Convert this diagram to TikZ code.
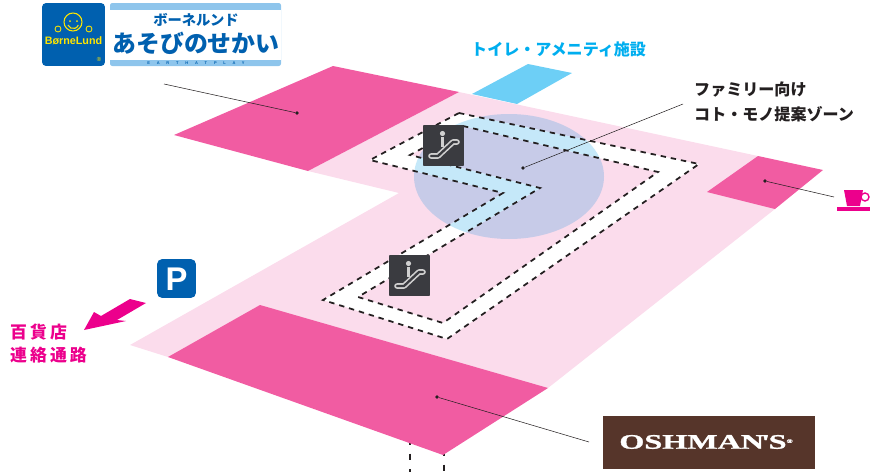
\documentclass[tikz,border=0pt]{standalone}
\usepackage{fontspec}
\setmainfont{Liberation Sans}
\newfontfamily\cjk{Noto Sans CJK JP}
\newfontfamily\cjkwide[LetterSpace=18]{Noto Sans CJK JP}
\newfontfamily\oshfont[FakeBold=1.2]{Liberation Serif}
\newfontfamily\earthfont[LetterSpace=170]{Liberation Sans}
\definecolor{floorpink}{HTML}{FBDCEC}
\definecolor{blockpink}{HTML}{F15CA2}
\definecolor{hotpink}{HTML}{EC008C}
\definecolor{toiletblue}{HTML}{6DCFF6}
\definecolor{labelblue}{HTML}{00AEEF}
\definecolor{zonelav}{HTML}{C7CBE8}
\definecolor{zoneblue}{HTML}{C5E8F9}
\definecolor{logoblue}{HTML}{0060AF}
\definecolor{logoband}{HTML}{8EC5EC}
\definecolor{logoyellow}{HTML}{FFE600}
\definecolor{iconbox}{HTML}{3A3B40}
\definecolor{iconline}{HTML}{D0D0D0}
\definecolor{oshbrown}{HTML}{56352A}
\definecolor{inkdark}{HTML}{231F20}
\tikzset{
	stripfill/.style={even odd rule, insert path={
		(459,-113) -- (699,-164) -- (447,-339) -- (323,-300) -- (503,-193) -- (370,-160) -- cycle
		(463,-126) -- (658,-172) -- (443,-323) -- (358,-297) -- (540,-188) -- (410,-155) -- cycle}},
	walkway/.style={inkdark, line width=1.5pt, dash pattern=on 4.6pt off 4.2pt},
	leader/.style={inkdark, line width=0.45pt},
	dotmark/.style={circle, fill=inkdark, minimum size=3.2pt},
	jplabel/.style={anchor=west, inkdark, font=\cjk\bfseries\fontsize{13.7}{13.7}\selectfont},
	pinklabel/.style={anchor=west, hotpink, font=\cjkwide\bfseries\fontsize{14.4}{14.4}\selectfont}
}
\begin{document}
\begin{tikzpicture}[x=0.03cm,y=0.03cm]
	\tikzstyle{every node}+=[inner sep=0pt]
	\useasboundingbox (0,0) rectangle (882,-472);
	% floor
	\fill [toiletblue] (528,-64) -- (572,-73) -- (517,-104) -- (472,-94) -- cycle;
	\fill [floorpink] (459,-92) -- (758,-156) -- (775,-209) -- (548,-388) -- (168,-357) -- (130,-345) -- (399,-193) -- (308,-171) -- cycle;
	\fill [blockpink] (333,-66) -- (459,-92) -- (308,-171) -- (174,-135) -- cycle;
	\fill [blockpink] (758,-156) -- (823,-170) -- (775,-209) -- (707,-192) -- cycle;
	\draw [walkway, dash pattern=on 5.8pt off 7.6pt] (410,-438) -- (410,-472);
	\draw [walkway, dash pattern=on 5.8pt off 7.6pt] (444,-449) -- (444,-472);
	\fill [blockpink] (260,-305) -- (548,-388) -- (443,-455) -- (168,-357) -- cycle;
	% zone and walkway
	\fill [zonelav] (509,-176.5) ellipse (95 and 62.5);
	\fill [white, stripfill];
	\begin{scope}
		\clip (509,-176.5) ellipse (95 and 62.5);
		\fill [zoneblue, stripfill];
	\end{scope}
	\draw [walkway] (459,-113) -- (699,-164) -- (447,-339) -- (323,-300) -- (503,-193) -- (370,-160) -- cycle;
	\draw [walkway] (463,-126) -- (658,-172) -- (443,-323) -- (358,-297) -- (540,-188) -- (410,-155) -- cycle;
	% escalators
	\foreach \x/\y [count=\i] in {423/125, 389/255} {
		\begin{scope}[shift={(\x,-\y)}]
			\node [fill=iconbox, minimum size=34.8pt, rounded corners=0.6pt] (esc\i) at (20.5,-20.5) {};
			\draw [iconline, line width=4.8pt, line cap=round, line join=round] (8,-31) -- (15,-31) -- (30,-17) -- (34,-17);
			\draw [iconbox, line width=2pt, line cap=round, line join=round] (8,-31) -- (15,-31) -- (30,-17) -- (34,-17);
			\draw [iconline, line width=3.2pt] (19.5,-12) -- (19.5,-22);
			\fill [iconline] (19.5,-8.5) circle (2.6);
		\end{scope}
	}
	% leaders
	\node [dotmark] (topdot) at (297,-113) {};
	\coordinate (topend) at (164,-84);
	\draw [leader] (topdot) -- (topend);
	\node [dotmark] (zonedot) at (523,-168) {};
	\coordinate (zoneend) at (683,-104);
	\draw [leader] (zonedot) -- (zoneend);
	\node [dotmark] (cafedot) at (765,-181) {};
	\coordinate (cafeend) at (834,-197);
	\draw [leader] (cafedot) -- (cafeend);
	\node [dotmark] (oshdot) at (437,-397) {};
	\coordinate (oshend) at (589,-442);
	\draw [leader] (oshdot) -- (oshend);
	% labels
	\node [jplabel, labelblue] (toilet) at (471,-49) {トイレ・アメニティ施設};
	\node [jplabel] (zonea) at (694,-90) {ファミリー向け};
	\node [jplabel] (zoneb) at (694,-114) {コト・モノ提案ゾーン};
	\node [pinklabel] (depta) at (10,-332) {百貨店};
	\node [pinklabel] (deptb) at (10,-355) {連絡通路};
	\fill [hotpink] (84,-330) -- (94,-312) -- (101,-316) -- (130,-299) -- (146,-303) -- (117,-320) -- (126,-321) -- cycle;
	% parking
	\node [fill=logoblue, rounded corners=4pt, minimum size=33pt] (parking) at (176.5,-278.5) {};
	\node [white, font=\bfseries\fontsize{28}{28}\selectfont] (parkingp) at (176.5,-279) {P};
	% cup
	\fill [hotpink] (844,-190) -- (863,-190) -- (860,-206) -- (847,-206) -- cycle;
	\draw [hotpink, line width=1.2pt] (865,-197) circle (4);
	\fill [hotpink] (837,-207) rectangle (870,-211);
	% logo
	\node [fill=logoblue, rounded corners=3pt, minimum size=53.5pt] (logobox) at (73.5,-34.5) {};
	\draw [logoyellow, line width=0.9pt] (73,-22) circle (9);
	\draw [logoyellow, line width=0.9pt] (68,-25) arc (200:340:5.5);
	\fill [logoyellow] (70,-21) circle (1) (77,-21) circle (1);
	\draw [logoyellow, line width=0.7pt] (58,-29) circle (3) (89,-29) circle (3);
	\node [logoyellow, font=\bfseries\fontsize{9.2}{9.2}\selectfont] (logoname) at (73.5,-41) {BørneLund};
	\node [logoyellow, font=\fontsize{5}{5}\selectfont] (logomark) at (99,-59) {®};
	\fill [logoband, rounded corners=2pt] (110,-3) rectangle (281,-66);
	\fill [white] (110,-10) rectangle (281,-60);
	\node [logoblue, font=\cjk\bfseries\fontsize{12.2}{12.2}\selectfont] (brandkana) at (196,-20) {ボーネルンド};
	\node [logoblue, font=\cjk\bfseries\fontsize{20.4}{20.4}\selectfont] (brandname) at (196,-43) {あそびのせかい};
	\node [logoblue, font=\earthfont\bfseries\fontsize{3.4}{3.4}\selectfont] (brandsub) at (196,-63) {EARTH\hspace{6pt}AT\hspace{6pt}PLAY};
	% oshman's
	\node [fill=oshbrown, minimum width=180.2pt, minimum height=45pt] (oshbox) at (709,-442.5) {};
	\node [white, anchor=center, xscale=1.56, font=\oshfont\bfseries\fontsize{17.6}{17.6}\selectfont] (oshname) at (706,-442) {OSHMAN\kern-1.6pt'\kern-0.8pt S\raisebox{5pt}{\fontsize{4.5}{4.5}\selectfont ®}};
\end{tikzpicture}
\end{document}
